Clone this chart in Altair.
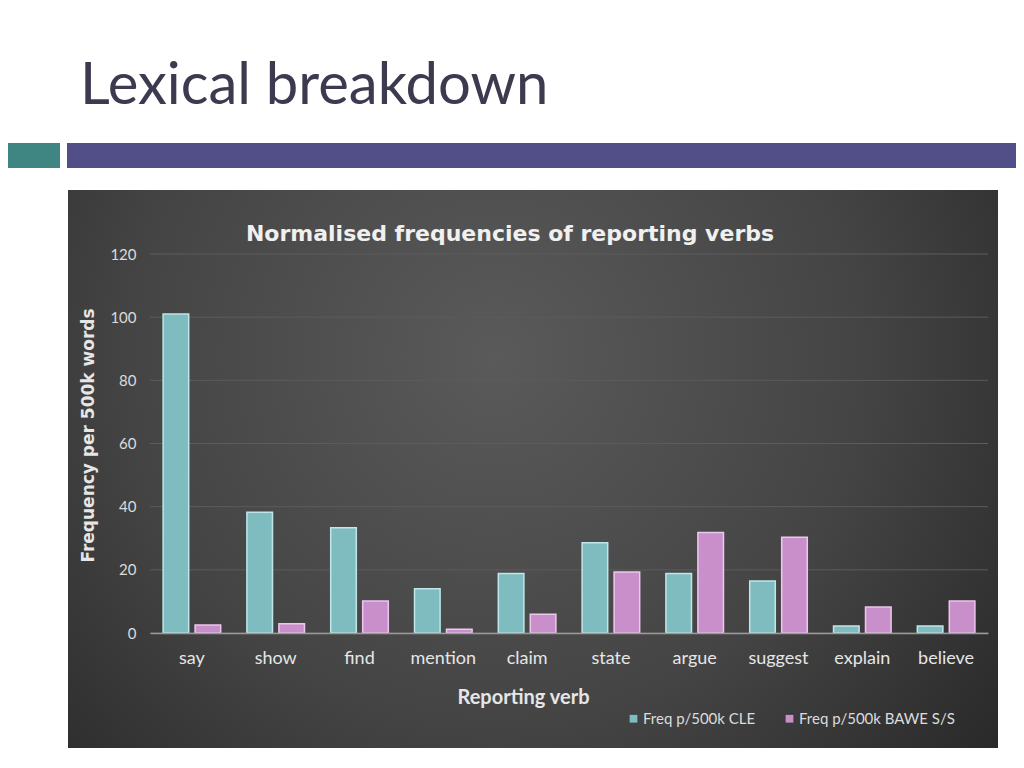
import altair as alt
import pandas as pd

verbs = ["say", "show", "find", "mention", "claim", "state", "argue", "suggest", "explain", "believe"]
cle = [101, 38.2, 33.3, 14.0, 18.8, 28.6, 18.8, 16.5, 2.2, 2.2]
bawe = [2.5, 2.9, 10.1, 1.2, 5.9, 19.3, 31.8, 30.3, 8.2, 10.1]
series = ["Freq p/500k CLE", "Freq p/500k BAWE S/S"]
y_ticks = [0, 20, 40, 60, 80, 100, 120]

rows = []
for v, a, b in zip(verbs, cle, bawe):
    rows.append({"verb": v, "series": series[0], "value": a})
    rows.append({"verb": v, "series": series[1], "value": b})
df = pd.DataFrame(rows)

FONT = "Lato"
WIDE = "DejaVu Sans"
W, H = 838, 379

one = pd.DataFrame({"k": [0]})

panel = alt.Chart(one).mark_rect(
    fill=alt.RadialGradient(
        gradient="radial",
        stops=[alt.GradientStop(color="#5a5a5a", offset=0),
               alt.GradientStop(color="#444444", offset=0.55),
               alt.GradientStop(color="#262626", offset=1)],
        x1=0.46, y1=0.38, x2=0.46, y2=0.38, r1=0, r2=0.72),
).encode(x=alt.value(-82), x2=alt.value(848), y=alt.value(-64), y2=alt.value(494))

teal_block = alt.Chart(one).mark_rect(color="#3f8582").encode(
    x=alt.value(-158), x2=alt.value(-90), y=alt.value(-111), y2=alt.value(-86))
purple_bar = alt.Chart(one).mark_rect(color="#524e87").encode(
    x=alt.value(-83), x2=alt.value(880), y=alt.value(-111), y2=alt.value(-86))

slide_title = alt.Chart(one).mark_text(
    text="Lexical breakdown", font=FONT, fontSize=58, color="#3c3a4e",
    align="left", baseline="alphabetic").encode(x=alt.value(-70), y=alt.value(-150))

chart_title = alt.Chart(one).mark_text(
    text="Normalised frequencies of reporting verbs", font=WIDE, fontSize=22,
    fontWeight="bold", color="#f0f0f0", align="center", baseline="middle").encode(
    x=alt.value(360), y=alt.value(-20))

y_scale = alt.Scale(domain=[0, 120])
y_axis = alt.Axis(values=y_ticks, grid=False, domain=False, ticks=False,
                  labelFont=FONT, labelFontSize=15, labelColor="#dcdcdc",
                  labelPadding=14, title="Frequency per 500k words",
                  titleFont=WIDE, titleFontSize=17, titleFontWeight="bold",
                  titleColor="#e6e6e6", titleX=-62, titleY=181,
                  titleAngle=270, titleBaseline="middle", titleAlign="center",
                  zindex=1)

grid = alt.Chart(pd.DataFrame({"t": y_ticks})).mark_rule(
    color="#5c5c5c", strokeWidth=1).encode(
    y=alt.Y("t:Q", scale=y_scale, axis=y_axis))

bars = alt.Chart(df).mark_bar(strokeWidth=1.5).encode(
    x=alt.X("verb:N", sort=verbs,
            scale=alt.Scale(paddingInner=0, paddingOuter=0),
            axis=alt.Axis(title="Reporting verb", labelAngle=0, labelFont=FONT,
                          labelFontSize=18, labelColor="#e6e6e6", labelPadding=16,
                          ticks=False, domainColor="#9a9a9a", domainWidth=1.5,
                          titleFont=FONT, titleFontSize=20, titleFontWeight="bold",
                          titleColor="#e6e6e6", titleX=373, titleY=64,
                          titleBaseline="middle", titleAlign="center", zindex=1)),
    xOffset=alt.XOffset("series:N", sort=series,
                        scale=alt.Scale(paddingInner=0.2, paddingOuter=0.41)),
    y=alt.Y("value:Q", scale=y_scale, axis=y_axis),
    color=alt.Color("series:N", sort=series,
                    scale=alt.Scale(domain=series, range=["#7fbcc0", "#c98fcb"]),
                    legend=alt.Legend(title=None, orient="none", legendX=476, legendY=457,
                                      direction="horizontal", symbolType="square",
                                      symbolSize=60, labelFont=FONT, labelFontSize=15,
                                      labelColor="#dcdcdc", columnPadding=26,
                                      labelOffset=2, symbolStrokeWidth=0)),
    stroke=alt.Stroke("series:N", sort=series,
                      scale=alt.Scale(domain=series, range=["#bfe6e8", "#ecc8ee"]),
                      legend=None),
)

chart = alt.layer(panel, teal_block, purple_bar, slide_title, chart_title, grid, bars).properties(
    width=W, height=H,
    padding={"left": 142, "top": 246, "right": 28, "bottom": 120},
    autosize=alt.AutoSizeParams(type="none"),
    background="white",
).configure_view(stroke=None)

chart.save("out.html", embed_options={"renderer": "svg", "actions": False})
